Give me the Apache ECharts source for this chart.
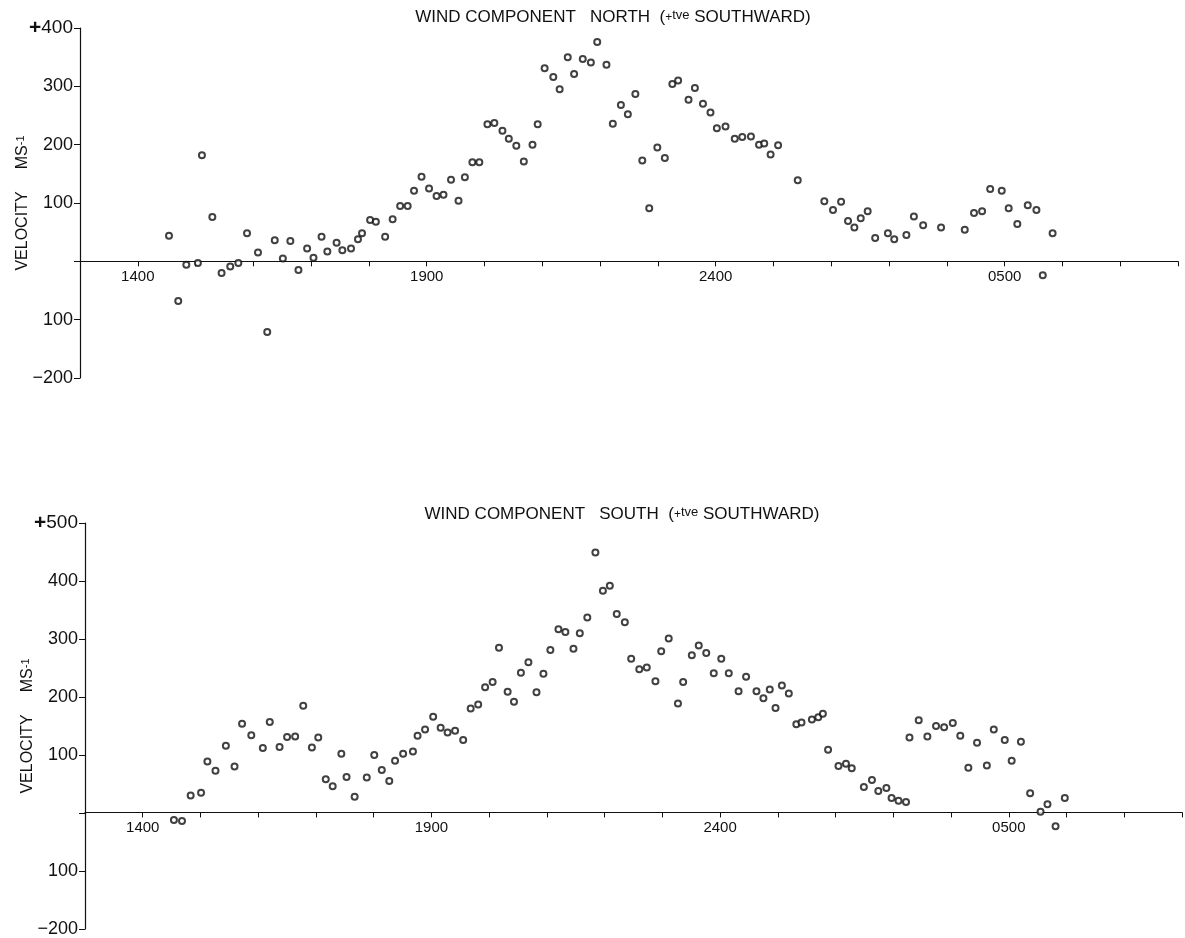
<!DOCTYPE html>
<html>
<head>
<meta charset="utf-8">
<script src="https://cdn.jsdelivr.net/npm/echarts@6/dist/echarts.min.js"></script>
<style>
html,body{margin:0;padding:0;background:#fff;}
#chart{width:1185px;height:938px;}
</style>
</head>
<body>
<div id="chart"></div>
<script>
// ---- data (time in decimal hours from 13:00, >24 = next morning) ----
const northTimes = [14.54,14.70,14.84,15.04,15.11,15.29,15.45,15.60,15.74,15.89,16.08,16.24,16.37,16.51,16.64,16.78,16.93,17.04,17.18,17.28,17.44,17.54,17.69,17.81,17.88,18.02,18.12,18.28,18.41,18.54,18.67,18.78,18.91,19.04,19.17,19.29,19.42,19.55,19.66,19.79,19.91,20.05,20.17,20.31,20.42,20.55,20.68,20.83,20.92,21.04,21.19,21.30,21.44,21.55,21.70,21.84,21.95,22.11,22.22,22.36,22.48,22.61,22.73,22.85,22.99,23.12,23.25,23.35,23.53,23.64,23.78,23.91,24.02,24.17,24.33,24.46,24.61,24.75,24.84,24.95,25.08,25.42,25.88,26.03,26.17,26.29,26.40,26.51,26.63,26.76,26.98,27.09,27.30,27.43,27.59,27.90,28.31,28.47,28.61,28.75,28.95,29.07,29.22,29.40,29.55,29.66,29.83];
const northValues = [44,-68,-6,-3,182,76,-20,-9,-3,48,15,-121,36,5,35,-15,22,6,42,17,32,19,22,38,48,71,68,42,72,95,95,121,145,125,112,114,140,104,144,170,170,235,237,224,210,198,171,200,235,331,316,295,350,321,347,341,376,337,236,268,252,287,173,91,195,177,304,310,277,297,270,255,228,231,210,213,214,200,202,183,199,139,103,88,102,69,58,74,86,40,48,38,45,77,62,58,54,83,86,124,121,91,64,96,88,-24,48];

const southTimes = [14.54,14.68,14.83,15.01,15.12,15.26,15.44,15.59,15.72,15.88,16.08,16.20,16.37,16.50,16.64,16.78,16.93,17.04,17.17,17.29,17.44,17.53,17.67,17.88,18.01,18.14,18.27,18.37,18.51,18.68,18.76,18.89,19.03,19.16,19.28,19.41,19.55,19.68,19.81,19.93,20.06,20.17,20.32,20.43,20.55,20.68,20.82,20.94,21.06,21.20,21.32,21.46,21.57,21.70,21.84,21.97,22.09,22.21,22.35,22.46,22.60,22.73,22.88,22.98,23.11,23.27,23.36,23.51,23.63,23.76,23.89,24.02,24.15,24.32,24.45,24.63,24.75,24.86,24.96,25.07,25.19,25.32,25.41,25.59,25.70,25.78,25.87,26.05,26.18,26.28,26.49,26.63,26.74,26.88,26.97,27.09,27.22,27.28,27.44,27.59,27.74,27.88,28.03,28.16,28.30,28.45,28.62,28.74,28.93,29.05,29.21,29.37,29.55,29.67,29.81,29.97];
const southValues = [-12,-14,30,35,89,73,116,80,154,134,112,157,114,131,132,185,113,130,58,46,102,62,28,61,100,74,55,90,102,106,133,144,166,147,139,142,126,180,187,217,226,285,209,192,242,260,208,240,281,317,312,283,310,337,449,383,392,343,329,266,248,251,227,279,301,189,226,272,289,276,241,266,241,210,235,210,198,213,181,220,206,153,156,161,165,171,109,81,85,77,45,57,38,43,26,21,19,130,160,132,150,148,155,133,78,121,82,144,126,90,123,34,2,15,-23,26];

const xTickHours  = [14, 19, 24, 29];
const xTickLabels = ['1400', '1900', '2400', '0500'];
const northYTicks  = [400, 300, 200, 100, 0, -100, -200];
const northYLabels = ['+400', '300', '200', '100', '', '100', '\u2212200'];
const southYTicks  = [500, 400, 300, 200, 100, 0, -100, -200];
const southYLabels = ['+500', '400', '300', '200', '100', '', '100', '\u2212200'];
const titles = ['WIND COMPONENT   NORTH', 'WIND COMPONENT   SOUTH'];

// ---- chart ----
const FONT = '"Liberation Sans", Arial, Helvetica, sans-serif';
const chart = echarts.init(document.getElementById('chart'), null, {renderer: 'canvas'});

const grids = [
  {left: 80, top: 28, width: 1098, height: 350, yMin: -200, yMax: 400},
  {left: 85, top: 523, width: 1098, height: 408, yMin: -200, yMax: 500}
];

function xLabel(v) {
  const i = xTickHours.indexOf(Math.round(v));
  return i >= 0 ? xTickLabels[i] : '';
}
function yLabelFn(ticks, labels) {
  return function (v) {
    const i = ticks.indexOf(Math.round(v));
    if (i < 0) return '';
    const s = labels[i];
    if (s.charAt(0) === '+') return '{p|+}{n|' + s.slice(1) + '}';
    return s;
  };
}
function xAxisCfg(g) {
  const G = grids[g];
  // place the time axis on the zero line of its panel
  const off = -G.height * (0 - G.yMin) / (G.yMax - G.yMin);
  return {
    type: 'value', gridIndex: g, min: 13, max: 32, interval: 1,
    position: 'bottom', offset: off,
    axisLine: {show: true, onZero: false, lineStyle: {color: '#111', width: 1.2}},
    axisTick: {show: true, inside: false, length: 5, lineStyle: {color: '#111', width: 1}},
    axisLabel: {formatter: xLabel, margin: 8, color: '#111', fontSize: 15, fontFamily: FONT, interval: 0,
                showMinLabel: true, showMaxLabel: true},
    splitLine: {show: false}
  };
}
function yAxisCfg(g, ticks, labels) {
  const G = grids[g];
  return {
    type: 'value', gridIndex: g, min: G.yMin, max: G.yMax, interval: 100,
    axisLine: {show: true, onZero: false, lineStyle: {color: '#111', width: 1.2}},
    axisTick: {show: true, inside: false, length: 6, lineStyle: {color: '#111', width: 1}},
    axisLabel: {
      formatter: yLabelFn(ticks, labels), margin: 7, color: '#111', fontSize: 18, fontFamily: FONT,
      rich: {p: {fontSize: 21, fontWeight: 'bold', color: '#111', fontFamily: FONT},
             n: {fontSize: 19, color: '#111', fontFamily: FONT}}
    },
    splitLine: {show: false},
    name: '{t|VELOCITY     MS}{s|-1}',
    nameLocation: 'middle', nameRotate: 90, nameGap: 49, nameMoveOverlap: false,
    nameTextStyle: {
      rich: {t: {fontSize: 16, color: '#111', fontFamily: FONT},
             s: {fontSize: 11, color: '#111', fontFamily: FONT, verticalAlign: 'top', lineHeight: 12}}
    }
  };
}
function titleText(t) {
  return '{t|' + t + '  (}{p|+}{s|tve}{t| SOUTHWARD)}';
}
const titleRich = {
  t: {fontSize: 17, color: '#111', fontFamily: FONT, fontWeight: 'normal'},
  p: {fontSize: 12, color: '#111', fontFamily: FONT, fontWeight: 'normal'},
  s: {fontSize: 13, color: '#111', fontFamily: FONT, fontWeight: 'normal', verticalAlign: 'top', lineHeight: 12}
};

const option = {
  animation: false,
  backgroundColor: '#fff',
  title: [
    {text: titleText(titles[0]), left: 608, top: 4, textAlign: 'center', textStyle: {fontWeight: 'normal', rich: titleRich}},
    {text: titleText(titles[1]), left: 617, top: 501, textAlign: 'center', textStyle: {fontWeight: 'normal', rich: titleRich}}
  ],
  grid: grids.map(G => ({left: G.left, top: G.top, width: G.width, height: G.height, containLabel: false})),
  xAxis: [xAxisCfg(0), xAxisCfg(1)],
  yAxis: [
    yAxisCfg(0, northYTicks, northYLabels),
    yAxisCfg(1, southYTicks, southYLabels)
  ],
  series: [
    {
      name: 'North', type: 'scatter', xAxisIndex: 0, yAxisIndex: 0,
      symbol: 'emptyCircle', symbolSize: 6,
      itemStyle: {color: '#111', borderColor: '#111', borderWidth: 0.8},
      data: northTimes.map((t, i) => [t, northValues[i]])
    },
    {
      name: 'South', type: 'scatter', xAxisIndex: 1, yAxisIndex: 1,
      symbol: 'emptyCircle', symbolSize: 6,
      itemStyle: {color: '#111', borderColor: '#111', borderWidth: 0.8},
      data: southTimes.map((t, i) => [t, southValues[i]])
    }
  ]
};
chart.setOption(option);
</script>
</body>
</html>
